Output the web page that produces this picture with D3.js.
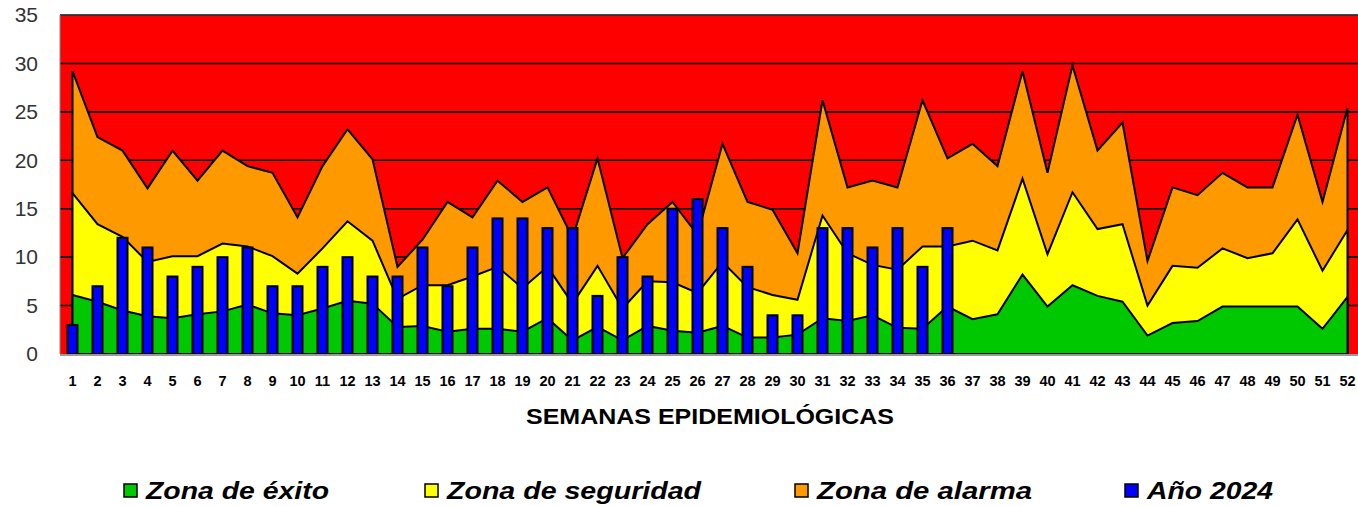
<!DOCTYPE html>
<html><head><meta charset="utf-8">
<script src="https://cdn.jsdelivr.net/npm/d3@7"></script>
<style>html,body{margin:0;padding:0;background:#fff;}svg{display:block;}</style>
</head><body>
<svg id="chart" width="1358" height="506"></svg>
<script>
const weeks = d3.range(1, 53).map(String);
const zonaExito = [6.1,5.4,4.5,3.9,3.7,4.1,4.4,5.1,4.2,4.0,4.7,5.5,5.2,2.8,2.9,2.3,2.6,2.6,2.3,3.7,1.4,2.8,1.4,2.9,2.4,2.2,2.9,1.7,1.7,2.0,3.7,3.4,4.0,2.7,2.6,4.9,3.6,4.1,8.2,4.9,7.1,6.0,5.4,1.9,3.2,3.4,4.9,4.9,4.9,4.9,2.6,5.9];
const zonaSeguridad = [16.6,13.4,12.1,9.5,10.1,10.1,11.4,11.1,10.1,8.3,10.9,13.7,11.7,5.7,7.1,7.1,8.0,9.0,6.8,9.0,5.2,9.1,4.7,7.5,7.4,6.3,9.5,6.9,6.1,5.6,14.3,10.4,9.2,8.7,11.1,11.1,11.7,10.7,18.1,10.3,16.7,12.9,13.4,5.0,9.1,8.9,10.9,9.9,10.4,13.9,8.6,12.8];
const zonaAlarma = [29.2,22.4,21.0,17.1,21.0,17.9,21.0,19.4,18.7,14.1,19.4,23.2,20.1,9.0,11.8,15.7,14.1,17.9,15.7,17.2,12.0,20.2,9.9,13.4,15.7,12.3,21.7,15.7,14.9,10.4,26.2,17.2,17.9,17.2,26.2,20.2,21.7,19.4,29.2,18.7,29.8,21.0,23.9,9.6,17.2,16.4,18.7,17.2,17.2,24.7,15.7,25.4];
const anio2024 = [3,7,12,11,8,9,10,11,7,7,9,10,8,8,11,7,11,14,14,13,13,6,10,8,15,16,13,9,4,4,13,13,11,13,9,13];
const yTicks = [0,5,10,15,20,25,30,35];
const legendLabels = ["Zona de éxito","Zona de seguridad","Zona de alarma","Año 2024"];
const legendColors = ["#00C800","#FFFF00","#FF9900","#0000FF"];

const svg = d3.select("#chart");
const pL = 60, pR = 1360, pT = 15, pB = 354;
const font = "'Liberation Sans', Arial, sans-serif";

const x = d3.scaleBand().domain(weeks).range([pL, pR]).paddingInner(0).paddingOuter(0);
const cx = d => x(d) + x.bandwidth() / 2;
const y = d3.scaleLinear().domain([0, 35]).range([pB, pT]);

// red background
svg.append("rect").attr("x", pL).attr("y", pT).attr("width", pR - pL).attr("height", pB - pT).attr("fill", "#FF0000");

// gridlines
svg.append("g").selectAll("line").data(yTicks.filter(t => t > 0)).join("line")
  .attr("x1", pL).attr("x2", pR).attr("y1", d => y(d)).attr("y2", d => y(d))
  .attr("stroke", "#000").attr("stroke-width", 1.6);

function drawArea(vals, color) {
  const area = d3.area().x((d, i) => cx(weeks[i])).y0(y(0)).y1(d => y(d));
  svg.append("path").datum(vals).attr("d", area).attr("fill", color)
    .attr("stroke", "#000").attr("stroke-width", 2).attr("stroke-linejoin", "miter");
}
drawArea(zonaAlarma, "#FF9900");
drawArea(zonaSeguridad, "#FFFF00");
drawArea(zonaExito, "#00C800");

// bars
const bw = 10;
svg.append("g").selectAll("rect").data(anio2024).join("rect")
  .attr("x", (d, i) => cx(weeks[i]) - bw / 2)
  .attr("y", d => y(d))
  .attr("width", bw)
  .attr("height", d => y(0) - y(d))
  .attr("fill", "#0000FF").attr("stroke", "#000").attr("stroke-width", 2);

// axis line & borders
svg.append("line").attr("x1", pL).attr("x2", pR).attr("y1", pB + 1).attr("y2", pB + 1).attr("stroke", "#999").attr("stroke-width", 2);
svg.append("line").attr("x1", pL).attr("x2", pR).attr("y1", pT).attr("y2", pT).attr("stroke", "#555").attr("stroke-width", 1);
svg.append("line").attr("x1", pL).attr("x2", pL).attr("y1", pT).attr("y2", pB).attr("stroke", "#888").attr("stroke-width", 1);

// y tick labels
svg.append("g").selectAll("text").data(yTicks).join("text")
  .attr("x", 38).attr("y", d => y(d)).attr("dy", "0.35em")
  .attr("text-anchor", "end")
  .attr("font-family", font).attr("font-size", 21)
  .attr("fill", "#333").text(d => d);

// x tick labels
svg.append("g").selectAll("text").data(weeks).join("text")
  .attr("x", d => cx(d)).attr("y", 380.5).attr("dy", "0.35em")
  .attr("text-anchor", "middle")
  .attr("font-family", font).attr("font-weight", "bold").attr("font-size", 14.5)
  .attr("fill", "#000").text(d => d);

// axis title
svg.append("text").attr("x", 526).attr("y", 416).attr("dy", "0.35em").attr("text-anchor", "start")
  .attr("font-family", font).attr("font-weight", "bold").attr("font-size", 22)
  .attr("textLength", 368).attr("lengthAdjust", "spacingAndGlyphs")
  .attr("fill", "#000").text("SEMANAS EPIDEMIOLÓGICAS");

// legend
const legX = [124, 425, 795, 1125];
const legW = [183, 254, 215, 126];
const lg = svg.append("g").selectAll("g").data(legendLabels).join("g")
  .attr("transform", (d, i) => `translate(${legX[i]},491)`);
lg.append("rect").attr("x", 0).attr("y", -7).attr("width", 13).attr("height", 13)
  .attr("fill", (d, i) => legendColors[i]).attr("stroke", "#000").attr("stroke-width", 1.5);
lg.append("text").attr("x", 22).attr("y", 0).attr("dy", "0.35em")
  .attr("font-family", font).attr("font-weight", "bold").attr("font-style", "italic").attr("font-size", 24)
  .attr("textLength", (d, i) => legW[i]).attr("lengthAdjust", "spacingAndGlyphs")
  .attr("fill", "#000").text(d => d);
</script>
</body></html>
